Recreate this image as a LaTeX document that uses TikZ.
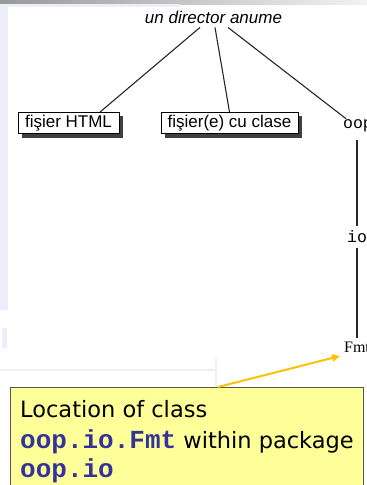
\documentclass[tikz,border=0pt]{standalone}
\usepackage{fontspec}
\usetikzlibrary{arrows.meta}
\newfontfamily\helv{Liberation Sans}
\newfontfamily\tah{DejaVu Sans}
\newfontfamily\cour{Liberation Mono}
\newfontfamily\tms{Liberation Serif}
\definecolor{lav}{HTML}{EEEEFA}
\definecolor{callfill}{HTML}{FFFF99}
\definecolor{calldraw}{HTML}{555555}
\definecolor{arrowyel}{HTML}{FFC000}
\definecolor{codeblue}{HTML}{333399}
\tikzset{
  treeline/.style={line width=1.1pt, black!85},
  filebox/.style={draw=black, line width=0.9pt, fill=white, inner sep=0pt, minimum height=21pt, font=\helv\fontsize{17}{20}\selectfont},
  shadowbox/.style={fill=black!75, draw=none},
  pkglabel/.style={inner sep=0pt, font=\cour\fontsize{16.5}{18}\selectfont},
  calltext/.style={inner sep=0pt, anchor=base west, font=\tah\fontsize{22.5}{24}\selectfont},
  faint/.style={draw=lav, line width=2pt}
}
\newcommand{\codetxt}[1]{{\cour\bfseries\fontsize{26}{27}\selectfont\color{codeblue}#1}}
\begin{document}
\begin{tikzpicture}[x=1pt,y=-1pt]
\useasboundingbox (0,0) rectangle (367,485);
\clip (0,0) rectangle (367,485);
% background remnants
\shade[left color=black!40, right color=black!5] (0,0) rectangle (367,4);
\fill[lav] (0,4) rectangle (180,7);
\fill[lav] (0,7) rectangle (8,310);
\fill[lav] (2,328) rectangle (7,348);
\draw[faint] (0,370) -- (215,370);
\draw[faint] (216,358) -- (216,386);
% root
\node[inner sep=0pt, font=\helv\itshape\fontsize{17}{20}\selectfont] (dir) at (213.5,17) {un director anume};
% boxes with shadows
\fill[shadowbox] (22,116) rectangle (123,138);
\node[filebox, minimum width=101pt] (html) at (68.5,123) {fişier HTML};
\fill[shadowbox] (165,116) rectangle (302,138);
\node[filebox, minimum width=137pt] (cls) at (229.5,123) {fişier(e) cu clase};
% package path
\node[pkglabel] (oop) at (358,126) {oop};
\node[pkglabel] (io) at (357,237) {io};
\node[inner sep=0pt, font=\tms\fontsize{16}{18}\selectfont] (fmt) at (357,347) {Fmt};
% tree connectors
\draw[treeline] ([xshift=-13.5pt,yshift=-4pt]dir.south) -- ([xshift=31.5pt]html.north);
\draw[treeline] ([xshift=1.5pt,yshift=-4pt]dir.south) -- (cls.north);
\draw[treeline] ([xshift=14.5pt,yshift=-4pt]dir.south) -- ([xshift=3pt,yshift=1pt]oop.north west);
\draw[treeline] ([xshift=-1pt,yshift=-8pt]oop.south) -- ([yshift=5pt]io.north);
\draw[treeline] ([yshift=-5pt]io.south) -- ([yshift=3pt]fmt.north -| io.south);
% callout
\node[draw=calldraw, fill=callfill, line width=1.2pt, inner sep=0pt, minimum width=353pt, minimum height=110pt, anchor=north west] (call) at (10,387) {};
\node[calltext] (l1) at (20,417) {Location of class};
\node[calltext] (l2) at (20,448) {\codetxt{oop.io.Fmt} within package};
\node[calltext] (l3) at (20,477) {\codetxt{oop.io}};
\coordinate (arrstart) at (218,387);
\coordinate (arrend) at (340,356);
\draw[arrowyel, line width=2pt, -{Triangle[length=8pt,width=7pt]}] (arrstart) -- (arrend);
\end{tikzpicture}
\end{document}
